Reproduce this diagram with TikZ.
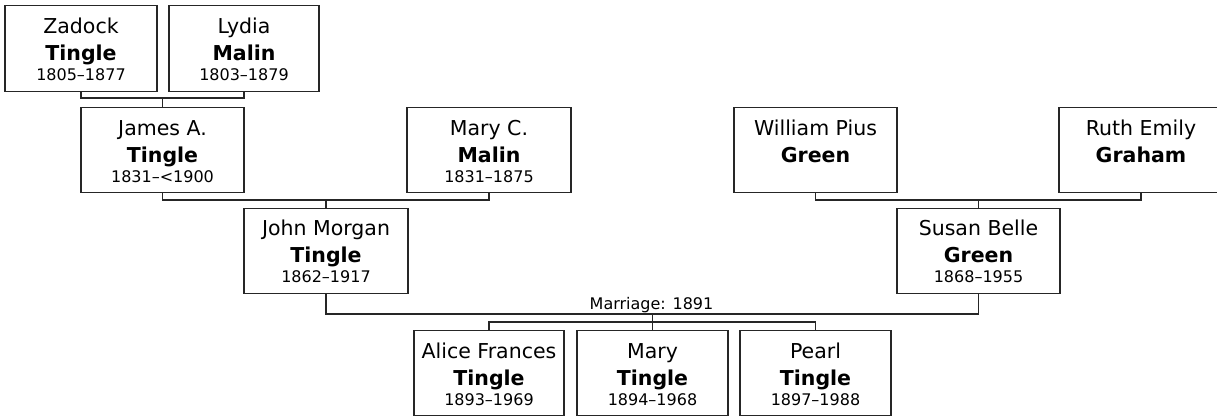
\documentclass[tikz,border=0pt]{standalone}
\usepackage{fontspec}
\setmainfont{DejaVu Sans}
\tikzset{
  box/.style={draw=black!85, line width=1.2pt, rectangle, inner sep=0pt},
  conn/.style={draw=black!85, line width=1.2pt},
  namefont/.style={font=\fontsize{20.5}{24}\selectfont, inner sep=0pt},
  lastfont/.style={font=\fontsize{20.5}{24}\selectfont\bfseries, inner sep=0pt},
  datefont/.style={font=\fontsize{16}{19}\selectfont, inner sep=0pt},
}
\newcommand\personbox[8]{%
  \node[box, minimum width=#4pt, minimum height=#5pt, anchor=north] (#1) at (#2,#3) {};
  \node[namefont, anchor=base] at ([yshift=-28pt]#1.north) {#6};
  \node[lastfont, anchor=base] at ([yshift=-55pt]#1.north) {#7};
  \node[datefont, anchor=base] at ([yshift=-75pt]#1.north) {#8};
}
\begin{document}
\begin{tikzpicture}[x=1pt,y=-1pt]
\useasboundingbox (0,0) rectangle (1217,416);
% generation 1
\personbox{zadock}{81}{5}{152}{86}{Zadock}{Tingle}{1805–1877}
\personbox{lydia}{244}{5}{150}{86}{Lydia}{Malin}{1803–1879}
% generation 2
\personbox{james}{162.5}{107}{163}{85}{James A.}{Tingle}{1831–<1900}
\personbox{maryc}{489}{107}{164}{85}{Mary C.}{Malin}{1831–1875}
\personbox{william}{815.5}{107}{163}{85}{William Pius}{Green}{}
\personbox{ruth}{1141}{107}{164}{85}{Ruth Emily}{Graham}{}
% generation 3
\personbox{john}{326}{207.5}{164}{85.5}{John Morgan}{Tingle}{1862–1917}
\personbox{susan}{978.5}{207.5}{163}{85.5}{Susan Belle}{Green}{1868–1955}
% children
\personbox{alice}{489}{330}{150}{85}{Alice Frances}{Tingle}{1893–1969}
\personbox{mary}{652.5}{330}{151}{85}{Mary}{Tingle}{1894–1968}
\personbox{pearl}{815.5}{330}{151}{85}{Pearl}{Tingle}{1897–1988}
% connectors
\coordinate (j1) at (162.5,98);
\draw[conn] (zadock.south) |- (j1) -| (lydia.south);
\draw[conn] (j1) -- (james.north);
\coordinate (j2) at (326,200);
\draw[conn] (james.south) |- (j2) -| (maryc.south);
\draw[conn] (j2) -- (john.north);
\coordinate (j3) at (978.5,200);
\draw[conn] (william.south) |- (j3) -| (ruth.south);
\draw[conn] (j3) -- (susan.north);
\coordinate (m1) at (652.5,314);
\draw[conn] (john.south) |- (m1) -| (susan.south);
\node[datefont, anchor=base] (mlabel) at (651.5,309) {Marriage: 1891};
\coordinate (c1) at (652.5,322);
\draw[conn] (m1) -- (mary.north);
\draw[conn] (alice.north) |- (c1) -| (pearl.north);
\end{tikzpicture}
\end{document}
